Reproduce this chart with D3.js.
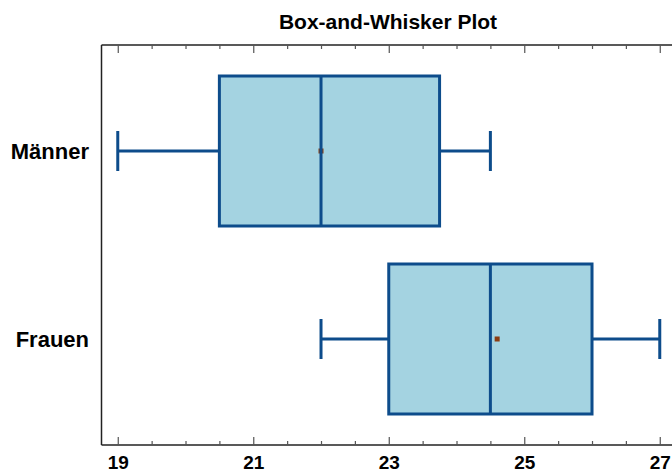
<!DOCTYPE html>
<html>
<head>
<meta charset="utf-8">
<script src="https://cdn.jsdelivr.net/npm/d3@7"></script>
<style>
  html, body { margin: 0; padding: 0; background: #fff; }
  svg { display: block; }
  text { font-family: "Liberation Sans", Arial, sans-serif; font-weight: bold; fill: #000; }
</style>
</head>
<body>
<svg id="chart" width="672" height="474"></svg>
<script>
// Groups and five-number summaries
const groups  = ["Männer", "Frauen"];
const mins    = [19, 22];
const q1s     = [20.5, 23];
const medians = [22, 24.5];
const q3s     = [23.75, 26];
const maxs    = [24.5, 27];
const means   = [22, 24.6];

const majorTicks = [19, 21, 23, 25, 27];
const minorTicks = d3.range(19, 27.01, 0.5).filter(v => !majorTicks.includes(v));

const svg = d3.select("#chart");
const W = 672, H = 474;
const plotLeft = 101.5, plotTop = 45, plotBottom = 445;

const x = d3.scaleLinear().domain([18.76, 27.25]).range([plotLeft, plotLeft + 8.49 * 67.75]);
const y = d3.scalePoint().domain(groups).range([57, 433]).padding(0.5);
const boxH = 150, capH = 40;

const stroke = "#0d4c8b", fill = "#a4d3e1";

// Title
svg.append("text")
  .attr("x", 388).attr("y", 29)
  .attr("text-anchor", "middle")
  .style("font-size", "21px")
  .text("Box-and-Whisker Plot");

// Frame
const frame = svg.append("g");
frame.append("line").attr("x1", plotLeft).attr("x2", W + 5).attr("y1", plotTop).attr("y2", plotTop)
  .attr("stroke", "#222").attr("stroke-width", 1.5);
frame.append("line").attr("x1", plotLeft).attr("x2", W + 5).attr("y1", plotBottom).attr("y2", plotBottom)
  .attr("stroke", "#222").attr("stroke-width", 1.5);
frame.append("line").attr("x1", plotLeft).attr("x2", plotLeft).attr("y1", plotTop).attr("y2", plotBottom)
  .attr("stroke", "#222").attr("stroke-width", 1.5);

function styleTicks(sel) {
  sel.select(".domain").remove();
  sel.selectAll(".tick line").attr("stroke", "#555").attr("stroke-width", 1.2);
}

// Bottom axis (inward ticks)
const gb = svg.append("g").attr("transform", `translate(0,${plotBottom})`)
  .call(d3.axisBottom(x).tickValues(majorTicks).tickSizeInner(-8).tickSizeOuter(0).tickPadding(11));
styleTicks(gb);
gb.selectAll(".tick text")
  .style("font-size", "19px")
  .style("font-family", "Liberation Sans, Arial, sans-serif")
  .style("font-weight", "bold")
  .attr("fill", "#000");
const gbm = svg.append("g").attr("transform", `translate(0,${plotBottom})`)
  .call(d3.axisBottom(x).tickValues(minorTicks).tickSizeInner(-4).tickSizeOuter(0).tickFormat(""));
styleTicks(gbm);

// Top axis (inward ticks)
const gt = svg.append("g").attr("transform", `translate(0,${plotTop})`)
  .call(d3.axisTop(x).tickValues(majorTicks).tickSizeInner(-8).tickSizeOuter(0).tickFormat(""));
styleTicks(gt);
const gtm = svg.append("g").attr("transform", `translate(0,${plotTop})`)
  .call(d3.axisTop(x).tickValues(minorTicks).tickSizeInner(-4).tickSizeOuter(0).tickFormat(""));
styleTicks(gtm);

// Group labels
svg.selectAll("text.glabel").data(groups).join("text")
  .attr("class", "glabel")
  .attr("x", 89).attr("y", d => y(d) + 8)
  .attr("text-anchor", "end")
  .style("font-size", "22px")
  .text(d => d);

// Boxes
const g = svg.append("g");
groups.forEach((name, i) => {
  const cy = y(name);
  // whiskers
  g.append("line").attr("x1", x(mins[i])).attr("x2", x(q1s[i])).attr("y1", cy).attr("y2", cy)
    .attr("stroke", stroke).attr("stroke-width", 3);
  g.append("line").attr("x1", x(q3s[i])).attr("x2", x(maxs[i])).attr("y1", cy).attr("y2", cy)
    .attr("stroke", stroke).attr("stroke-width", 3);
  // caps
  [mins[i], maxs[i]].forEach(v => {
    g.append("line").attr("x1", x(v)).attr("x2", x(v)).attr("y1", cy - capH / 2).attr("y2", cy + capH / 2)
      .attr("stroke", stroke).attr("stroke-width", 3);
  });
  // box
  g.append("rect").attr("x", x(q1s[i])).attr("y", cy - boxH / 2)
    .attr("width", x(q3s[i]) - x(q1s[i])).attr("height", boxH)
    .attr("fill", fill).attr("stroke", stroke).attr("stroke-width", 3);
  // mean marker
  g.append("rect").attr("x", x(means[i]) - 2.5).attr("y", cy - 2.5)
    .attr("width", 5).attr("height", 5).attr("fill", "#8b3d12");
  // median
  g.append("line").attr("x1", x(medians[i])).attr("x2", x(medians[i]))
    .attr("y1", cy - boxH / 2).attr("y2", cy + boxH / 2)
    .attr("stroke", stroke).attr("stroke-width", 3);
});
</script>
</body>
</html>
